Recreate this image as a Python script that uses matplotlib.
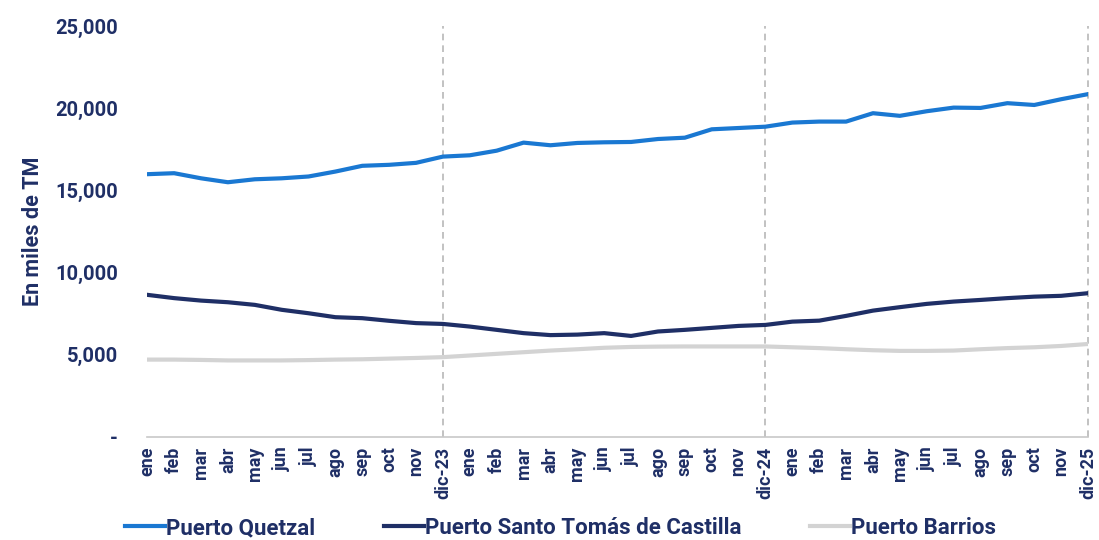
import numpy as np
import matplotlib
matplotlib.use("Agg")
import matplotlib.pyplot as plt
from matplotlib.ticker import FuncFormatter

# Data (miles de TM), ene-23 .. dic-25
months = ["ene", "feb", "mar", "abr", "may", "jun", "jul", "ago", "sep", "oct", "nov"]
xLabels = months + ["dic-23"] + months + ["dic-24"] + months + ["dic-25"]

quetzal = [15980, 16040, 15730, 15490, 15670, 15730, 15840, 16140, 16490, 16550, 16670, 17050,
           17130, 17410, 17900, 17740, 17880, 17920, 17940, 18120, 18200, 18710, 18790, 18870,
           19120, 19180, 19180, 19690, 19530, 19810, 20030, 20010, 20300, 20190, 20540, 20850]
santoTomas = [8640, 8440, 8290, 8190, 8030, 7730, 7520, 7280, 7220, 7060, 6920, 6870,
              6710, 6510, 6310, 6190, 6220, 6310, 6140, 6410, 6510, 6630, 6750, 6810,
              7010, 7070, 7360, 7680, 7890, 8090, 8230, 8330, 8440, 8530, 8580, 8740]
barrios = [4700, 4700, 4680, 4650, 4650, 4650, 4670, 4700, 4720, 4760, 4800, 4850,
           4950, 5050, 5150, 5250, 5330, 5420, 5470, 5490, 5500, 5500, 5500, 5500,
           5450, 5400, 5330, 5270, 5230, 5230, 5250, 5330, 5400, 5450, 5530, 5650]
yTicks = [0, 5000, 10000, 15000, 20000, 25000]
yearEnds = ["dic-23", "dic-24", "dic-25"]

navy = "#1f2f66"
plt.rcParams['font.family'] = ['Roboto', 'DejaVu Sans']

fig = plt.figure(figsize=(10.99, 5.40), dpi=100)
ax = fig.add_axes([0.134, 0.191, 0.856, 0.761])

x = np.arange(len(xLabels))

# Dashed separators at year ends
for lbl in yearEnds:
    ax.axvline(xLabels.index(lbl), color="#b8b8b8", linestyle=(0, (4, 3)), linewidth=1.2,
               zorder=1, clip_on=False)

ax.plot(x, quetzal, color="#1a78d2", linewidth=3, label="Puerto Quetzal", zorder=3)
ax.plot(x, santoTomas, color=navy, linewidth=3, label="Puerto Santo Tomás de Castilla", zorder=3)
ax.plot(x, barrios, color="#d3d3d3", linewidth=3, label="Puerto Barrios", zorder=2)

ax.set_xlim(0, len(xLabels) - 1)
ax.set_ylim(0, 25000)
ax.set_yticks(yTicks)
ax.yaxis.set_major_formatter(FuncFormatter(lambda v, p: "-" if v == 0 else f"{int(v):,}"))
ax.set_xticks(x)
ax.set_xticklabels(xLabels, rotation=90)

for lab in ax.get_xticklabels() + ax.get_yticklabels():
    lab.set_fontweight("bold")
    lab.set_color(navy)
ax.tick_params(axis="x", length=0, labelsize=13, pad=7)
ax.tick_params(axis="y", length=0, labelsize=14.5, pad=21)

ax.set_ylabel("En miles de TM", fontsize=15.5, fontweight="bold", color=navy, labelpad=8)

for side in ["top", "right", "left"]:
    ax.spines[side].set_visible(False)
ax.spines["bottom"].set_color("#c8c8c8")
ax.spines["bottom"].set_linewidth(1.2)

leg = fig.legend(loc="lower center", bbox_to_anchor=(0.51, -0.035), ncol=3, frameon=False,
                 fontsize=16, handlelength=1.8, handletextpad=0.05, columnspacing=3.1)
for t in leg.get_texts():
    t.set_fontweight("bold")
    t.set_color(navy)

fig.savefig("out.png", dpi=100)
